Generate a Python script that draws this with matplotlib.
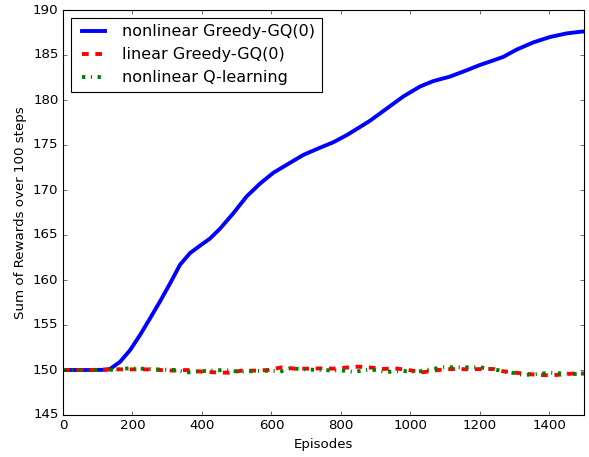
import matplotlib
matplotlib.use('Agg')
import matplotlib.pyplot as plt

plt.style.use('classic')

# blue: nonlinear Greedy-GQ(0)
gq_nl_x = [0, 40, 80, 120, 135, 164, 193, 222, 250, 279, 308, 337, 366, 394, 423, 452, 490,
           529, 567, 605, 644, 692, 740, 778, 817, 855, 884, 941, 980, 1028, 1066, 1114, 1162,
           1201, 1239, 1268, 1306, 1354, 1402, 1450, 1493, 1500]
gq_nl_y = [150.0, 150.0, 150.0, 150.02, 150.1, 150.9, 152.2, 153.9, 155.7, 157.6, 159.6, 161.7,
           163.0, 163.8, 164.6, 165.7, 167.4, 169.3, 170.7, 171.9, 172.8, 173.9, 174.7, 175.3,
           176.1, 177.0, 177.7, 179.3, 180.4, 181.5, 182.1, 182.6, 183.3, 183.9, 184.4, 184.8,
           185.6, 186.4, 187.0, 187.4, 187.6, 187.6]

# red: linear Greedy-GQ(0)
gq_lin_x = [0, 40, 80, 135, 203, 241, 280, 318, 356, 400, 438, 476, 515, 553, 592, 630, 668,
            707, 745, 784, 812, 851, 889, 918, 956, 995, 1033, 1067, 1096, 1134, 1172, 1211,
            1240, 1268, 1302, 1340, 1374, 1408, 1442, 1475, 1500]
gq_lin_y = [150.0, 150.0, 150.0, 150.07, 150.07, 150.07, 150.0, 149.93, 150.0, 149.81, 149.74,
            149.7, 149.93, 149.93, 150.0, 150.3, 150.15, 150.15, 150.18, 150.15, 150.26, 150.37,
            150.26, 150.11, 150.18, 150.0, 149.74, 149.93, 150.07, 150.11, 150.07, 150.11, 150.11,
            149.85, 149.7, 149.55, 149.44, 149.41, 149.52, 149.63, 149.6]

# green: nonlinear Q-learning
q_nl_x = [0, 40, 80, 130, 195, 280, 322, 361, 410, 462, 510, 558, 596, 625, 654, 731, 808, 836,
          884, 932, 975, 1019, 1057, 1096, 1124, 1201, 1240, 1278, 1326, 1364, 1403, 1432, 1470, 1500]
q_nl_y = [150.0, 150.0, 150.0, 150.0, 150.2, 150.05, 150.0, 149.74, 149.9, 150.0, 149.81, 149.89,
          149.93, 149.81, 150.18, 150.0, 149.93, 149.78, 150.07, 149.78, 149.9, 149.78, 150.07,
          150.3, 150.3, 150.3, 150.07, 149.81, 149.44, 149.55, 149.7, 149.63, 149.55, 149.63]

fig = plt.figure(figsize=(589 / 80, 457 / 80), dpi=80)
ax = fig.add_axes([63 / 589, 42 / 457, 521 / 589, 405 / 457])

ax.plot(gq_nl_x, gq_nl_y, '-', color='b', linewidth=3.5, label='nonlinear Greedy-GQ(0)')
ax.plot(gq_lin_x, gq_lin_y, '--', color='r', linewidth=3.5, label='linear Greedy-GQ(0)')
ax.plot(q_nl_x, q_nl_y, '-.', color='g', linewidth=3.5, label='nonlinear Q-learning')

ax.set_xlim(0, 1500)
ax.set_ylim(145, 190)
ax.set_xlabel('Episodes')
ax.set_ylabel('Sum of Rewards over 100 steps')
ax.legend(loc='upper left')

fig.savefig('out.png', dpi=80)
